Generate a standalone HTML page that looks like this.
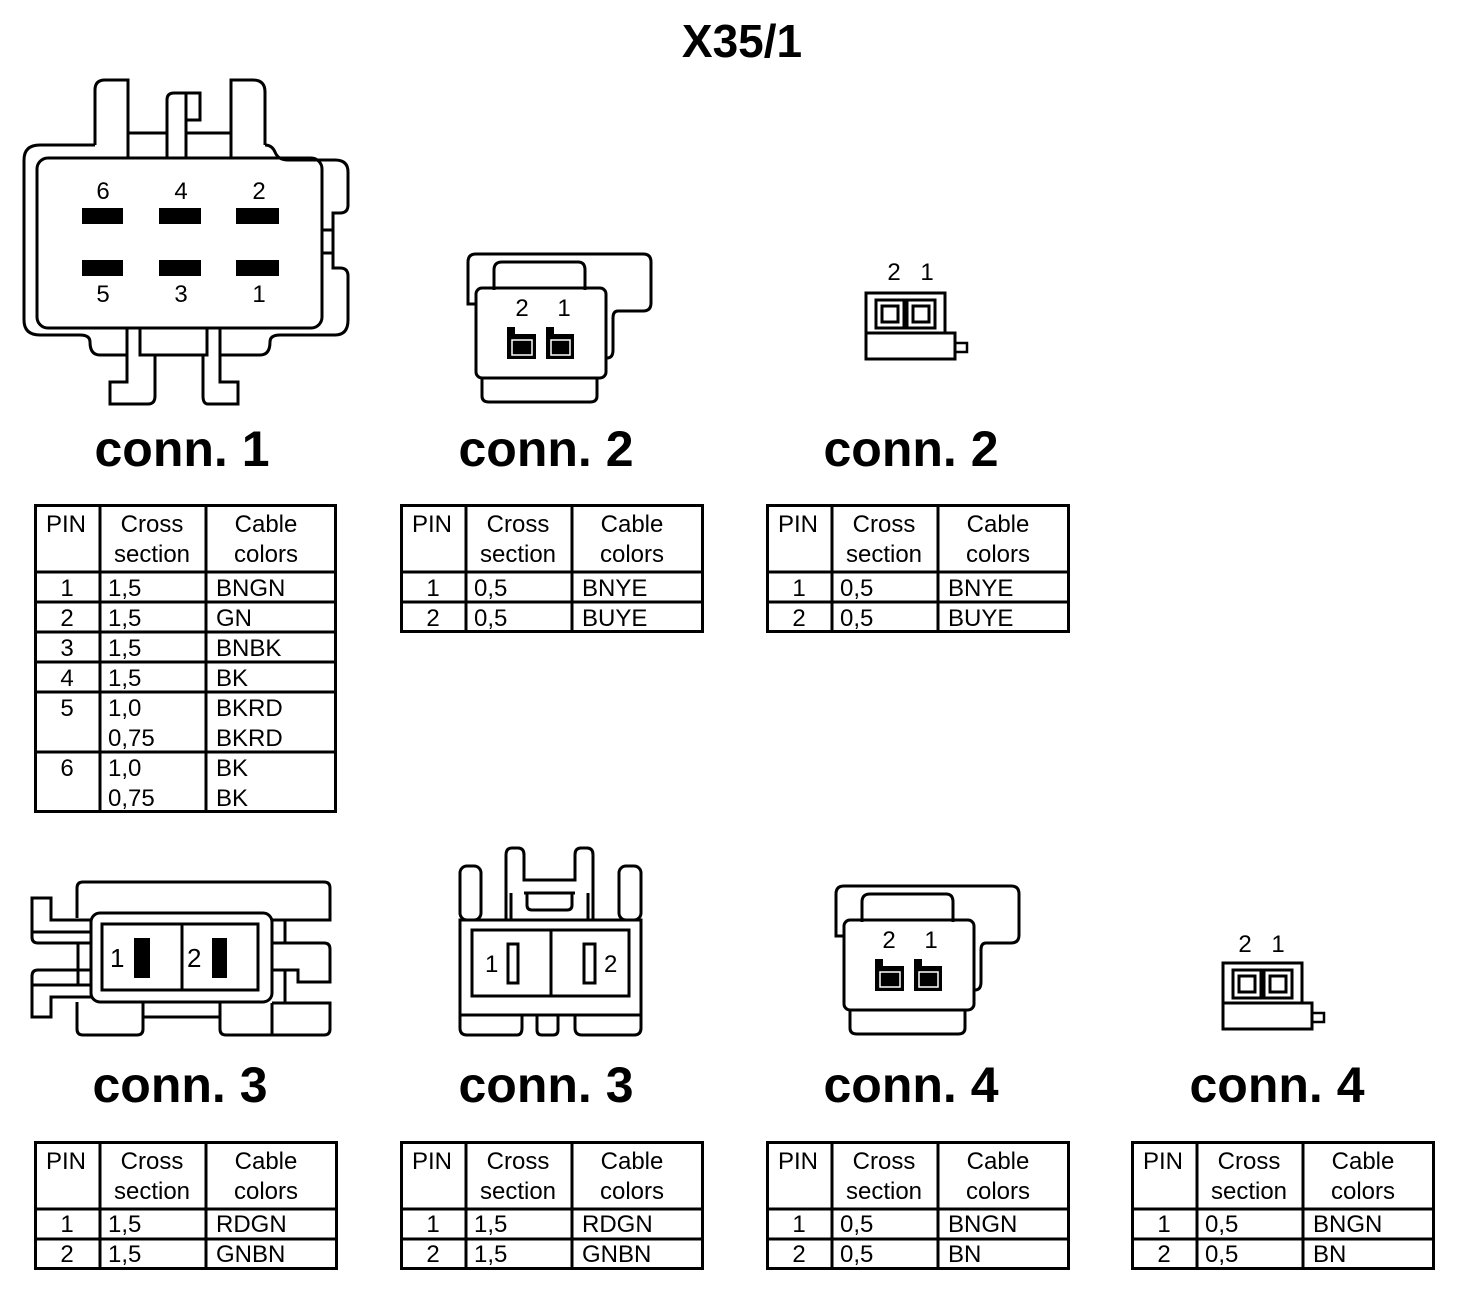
<!DOCTYPE html>
<html><head><meta charset="utf-8"><style>
html,body{margin:0;padding:0;background:#fff;}
svg{display:block;}
text{font-family:"Liberation Sans",Arial,sans-serif;fill:#000;}
.b{font-weight:bold;}
</style></head><body>
<svg width="1472" height="1310" viewBox="0 0 1472 1310" xmlns="http://www.w3.org/2000/svg">
<defs>
<g id="c2" fill="none" stroke="#000" stroke-width="3">
  <path d="M476 304 L468 304 L468 262 Q468 254 476 254 L643 254 Q651 254 651 262 L651 303 Q651 311 643 311 L618 311 Q613 311 613 318 L613 350 Q613 358 607 358"/>
  <path d="M494 290 L494 270 Q494 262 502 262 L578 262 Q585 262 585 270 L585 290"/>
  <rect x="476" y="288" width="130" height="90" rx="6"/>
  <path d="M482 378 L482 396 Q482 402 489 402 L590 402 Q597 402 597 396 L597 378"/>
  <path d="M508 358 L508 328 L514 328 L514 335 L535 335 L535 358 Z" fill="#000" stroke-width="2"/>
  <path d="M547 358 L547 328 L553 328 L553 335 L573 335 L573 358 Z" fill="#000" stroke-width="2"/>
  <rect x="512" y="340" width="20" height="15" stroke="#fff" stroke-width="1.5"/>
  <rect x="551" y="340" width="19" height="15" stroke="#fff" stroke-width="1.5"/>
</g>
<g id="c2s" fill="none" stroke="#000" stroke-width="3">
  <rect x="866" y="293" width="79" height="40"/>
  <rect x="876" y="300" width="28" height="28"/>
  <rect x="882" y="306" width="16" height="16"/>
  <rect x="907" y="300" width="28" height="28"/>
  <rect x="913" y="306" width="16" height="16"/>
  <rect x="866" y="333" width="89" height="26"/>
  <rect x="955" y="343" width="12" height="9" stroke-width="2.5"/>
</g>
<g id="tbl2" fill="none" stroke="#000" stroke-width="3">
  <rect x="1.5" y="1.5" width="301" height="126"/>
  <line x1="0" y1="68" x2="304" y2="68"/><line x1="0" y1="98" x2="304" y2="98"/>
  <line x1="66" y1="0" x2="66" y2="128"/><line x1="172" y1="0" x2="172" y2="128"/>
</g>
<g id="hdr" font-size="24">
  <text x="12" y="28">PIN</text>
  <text x="118" y="28" text-anchor="middle">Cross</text>
  <text x="118" y="58" text-anchor="middle">section</text>
  <text x="232" y="28" text-anchor="middle">Cable</text>
  <text x="232" y="58" text-anchor="middle">colors</text>
</g>
</defs>

<text x="742" y="57" font-size="46" class="b" text-anchor="middle">X35/1</text>

<!-- conn 1 drawing -->
<g fill="none" stroke="#000" stroke-width="3">
  <path d="M95 145 L95 90 Q95 80 105 80 L128 80 L128 158"/>
  <path d="M231 158 L231 80 L253 80 Q265 80 265 92 L265 145"/>
  <path d="M167 158 L167 100 Q167 93 174 93 L200 93 L200 120 L186 120 L186 158"/>
  <line x1="186" y1="93" x2="186" y2="120"/>
  <line x1="128" y1="133" x2="167" y2="133"/><line x1="186" y1="133" x2="231" y2="133"/>
  <path d="M95 145 Q95 145 88 145 L40 145 Q24 145 24 160 L24 320 Q24 335 40 335 L80 335 Q90 335 90 342 Q90 355 100 355 L127 355"/>
  <path d="M265 145 Q272 145 275 152 Q278 160 288 160 L335 160 Q348 160 348 172 L348 205 Q348 213 340 213 L333 213 L333 268 L340 268 Q348 268 348 276 L348 320 Q348 335 335 335 L280 335 Q270 335 270 342 Q270 355 260 355 L220 355"/>
  <line x1="322" y1="230" x2="333" y2="230"/><line x1="322" y1="253" x2="333" y2="253"/>
  <rect x="37" y="158" width="285" height="170" rx="11"/>
  <path d="M127 328 L127 382 L110 382 L110 404 L148 404 Q155 404 155 396 L155 355 L140 355 L140 328"/>
  <path d="M220 328 L220 382 L238 382 L238 404 L208 404 Q203 404 203 396 L203 355 L207 355 L207 328"/>
  <line x1="140" y1="355" x2="207" y2="355"/>
</g>
<g fill="#000">
  <rect x="82" y="208" width="41" height="16"/><rect x="159" y="208" width="42" height="16"/><rect x="236" y="208" width="43" height="16"/>
  <rect x="82" y="260" width="41" height="16"/><rect x="159" y="260" width="42" height="16"/><rect x="236" y="260" width="43" height="16"/>
</g>
<g font-size="24" text-anchor="middle">
  <text x="103" y="199">6</text><text x="181" y="199">4</text><text x="259" y="199">2</text>
  <text x="103" y="302">5</text><text x="181" y="302">3</text><text x="259" y="302">1</text>
</g>

<!-- conn 2 drawings -->
<use href="#c2"/>
<g font-size="24" text-anchor="middle"><text x="522" y="316">2</text><text x="564" y="316">1</text></g>
<use href="#c2s"/>
<g font-size="24" text-anchor="middle"><text x="894" y="280">2</text><text x="927" y="280">1</text></g>

<!-- conn 4 drawings -->
<use href="#c2" transform="translate(368,632)"/>
<g font-size="24" text-anchor="middle"><text x="889" y="948">2</text><text x="931" y="948">1</text></g>
<use href="#c2s" transform="translate(357,670)"/>
<g font-size="24" text-anchor="middle"><text x="1245" y="952">2</text><text x="1278" y="952">1</text></g>

<!-- conn 3 left -->
<g fill="none" stroke="#000" stroke-width="3">
  <path d="M77 918 L77 888 Q77 882 83 882 L324 882 Q330 882 330 888 L330 920 L272 920"/>
  <path d="M91 920 L51 920 L51 898 L32 898 L32 937 Q32 943 38 943 L91 943"/>
  <line x1="32" y1="932" x2="91" y2="932"/>
  <line x1="78" y1="943" x2="78" y2="985"/>
  <path d="M91 970 L38 970 Q32 970 32 976 L32 1017 L51 1017 L51 997 L91 997"/>
  <line x1="32" y1="985" x2="91" y2="985"/>
  <rect x="91" y="913" width="181" height="89" rx="9"/>
  <rect x="102" y="924" width="156" height="66"/>
  <line x1="182" y1="924" x2="182" y2="990"/>
  <path d="M77 1002 L77 1029 Q77 1035 83 1035 L137 1035 Q143 1035 143 1029 L143 1002"/>
  <line x1="143" y1="1017" x2="220" y2="1017"/>
  <path d="M220 1002 L220 1029 Q220 1035 226 1035 L324 1035 Q330 1035 330 1029 L330 1003 L272 1003"/>
  <line x1="272" y1="1003" x2="272" y2="1035"/>
  <line x1="285" y1="920" x2="285" y2="943"/>
  <path d="M272 943 L324 943 Q330 943 330 949 L330 982 L298 982 L298 970 L272 970"/>
  <line x1="285" y1="970" x2="285" y2="1003"/>
</g>
<rect x="134" y="938" width="16" height="40" fill="#000"/>
<rect x="212" y="938" width="15" height="40" fill="#000"/>
<g font-size="26"><text x="110" y="967">1</text><text x="187" y="967">2</text></g>

<!-- conn 3 right -->
<g fill="none" stroke="#000" stroke-width="3">
  <path d="M506 920 L506 855 Q506 848 512 848 L518 848 Q524 848 524 855 L524 880 L575 880 L575 855 Q575 848 581 848 L587 848 Q593 848 593 855 L593 920"/>
  <line x1="524" y1="893" x2="575" y2="893"/>
  <path d="M527 893 L527 905 Q527 910 532 910 L567 910 Q572 910 572 905 L572 893"/>
  <line x1="511" y1="893" x2="511" y2="920"/><line x1="588" y1="893" x2="588" y2="920"/>
  <rect x="460" y="866" width="21" height="54" rx="7"/>
  <rect x="619" y="866" width="22" height="54" rx="7"/>
  <rect x="460" y="920" width="181" height="95"/>
  <rect x="472" y="930" width="157" height="66"/>
  <line x1="551" y1="930" x2="551" y2="996"/>
  <rect x="508" y="944" width="10" height="39"/>
  <rect x="584" y="944" width="11" height="39"/>
  <path d="M460 1015 L460 1028 Q460 1035 467 1035 L517 1035 Q522 1035 522 1028 L522 1015"/>
  <path d="M537 1015 L537 1030 Q537 1035 542 1035 L553 1035 Q558 1035 558 1030 L558 1015"/>
  <path d="M575 1015 L575 1028 Q575 1035 582 1035 L634 1035 Q641 1035 641 1028 L641 1015"/>
</g>
<g font-size="24"><text x="485" y="972">1</text><text x="604" y="972">2</text></g>

<!-- labels -->
<g font-size="50" class="b" text-anchor="middle">
  <text x="182" y="466">conn. 1</text>
  <text x="546" y="466">conn. 2</text>
  <text x="911" y="466">conn. 2</text>
  <text x="180" y="1102">conn. 3</text>
  <text x="546" y="1102">conn. 3</text>
  <text x="911" y="1102">conn. 4</text>
  <text x="1277" y="1102">conn. 4</text>
</g>

<!-- table conn 1 -->
<g transform="translate(34,504)">
  <g fill="none" stroke="#000" stroke-width="3">
    <rect x="1.5" y="1.5" width="300" height="306"/>
    <line x1="0" y1="68" x2="303" y2="68"/><line x1="0" y1="98" x2="303" y2="98"/>
    <line x1="0" y1="128" x2="303" y2="128"/><line x1="0" y1="158" x2="303" y2="158"/>
    <line x1="0" y1="188" x2="303" y2="188"/><line x1="0" y1="248" x2="303" y2="248"/>
    <line x1="66" y1="0" x2="66" y2="308"/><line x1="172" y1="0" x2="172" y2="308"/>
  </g>
  <use href="#hdr"/>
  <g font-size="24">
    <text x="33" y="92" text-anchor="middle">1</text><text x="74" y="92">1,5</text><text x="182" y="92">BNGN</text>
    <text x="33" y="122" text-anchor="middle">2</text><text x="74" y="122">1,5</text><text x="182" y="122">GN</text>
    <text x="33" y="152" text-anchor="middle">3</text><text x="74" y="152">1,5</text><text x="182" y="152">BNBK</text>
    <text x="33" y="182" text-anchor="middle">4</text><text x="74" y="182">1,5</text><text x="182" y="182">BK</text>
    <text x="33" y="212" text-anchor="middle">5</text><text x="74" y="212">1,0</text><text x="182" y="212">BKRD</text>
    <text x="74" y="242">0,75</text><text x="182" y="242">BKRD</text>
    <text x="33" y="272" text-anchor="middle">6</text><text x="74" y="272">1,0</text><text x="182" y="272">BK</text>
    <text x="74" y="302">0,75</text><text x="182" y="302">BK</text>
  </g>
</g>

<!-- small tables -->
<g transform="translate(400,504)"><use href="#tbl2"/><use href="#hdr"/>
  <g font-size="24"><text x="33" y="92" text-anchor="middle">1</text><text x="74" y="92">0,5</text><text x="182" y="92">BNYE</text>
  <text x="33" y="122" text-anchor="middle">2</text><text x="74" y="122">0,5</text><text x="182" y="122">BUYE</text></g></g>
<g transform="translate(766,504)"><use href="#tbl2"/><use href="#hdr"/>
  <g font-size="24"><text x="33" y="92" text-anchor="middle">1</text><text x="74" y="92">0,5</text><text x="182" y="92">BNYE</text>
  <text x="33" y="122" text-anchor="middle">2</text><text x="74" y="122">0,5</text><text x="182" y="122">BUYE</text></g></g>
<g transform="translate(34,1141)"><use href="#tbl2"/><use href="#hdr"/>
  <g font-size="24"><text x="33" y="91" text-anchor="middle">1</text><text x="74" y="91">1,5</text><text x="182" y="91">RDGN</text>
  <text x="33" y="121" text-anchor="middle">2</text><text x="74" y="121">1,5</text><text x="182" y="121">GNBN</text></g></g>
<g transform="translate(400,1141)"><use href="#tbl2"/><use href="#hdr"/>
  <g font-size="24"><text x="33" y="91" text-anchor="middle">1</text><text x="74" y="91">1,5</text><text x="182" y="91">RDGN</text>
  <text x="33" y="121" text-anchor="middle">2</text><text x="74" y="121">1,5</text><text x="182" y="121">GNBN</text></g></g>
<g transform="translate(766,1141)"><use href="#tbl2"/><use href="#hdr"/>
  <g font-size="24"><text x="33" y="91" text-anchor="middle">1</text><text x="74" y="91">0,5</text><text x="182" y="91">BNGN</text>
  <text x="33" y="121" text-anchor="middle">2</text><text x="74" y="121">0,5</text><text x="182" y="121">BN</text></g></g>
<g transform="translate(1131,1141)"><use href="#tbl2"/><use href="#hdr"/>
  <g font-size="24"><text x="33" y="91" text-anchor="middle">1</text><text x="74" y="91">0,5</text><text x="182" y="91">BNGN</text>
  <text x="33" y="121" text-anchor="middle">2</text><text x="74" y="121">0,5</text><text x="182" y="121">BN</text></g></g>
</svg>
</body></html>
